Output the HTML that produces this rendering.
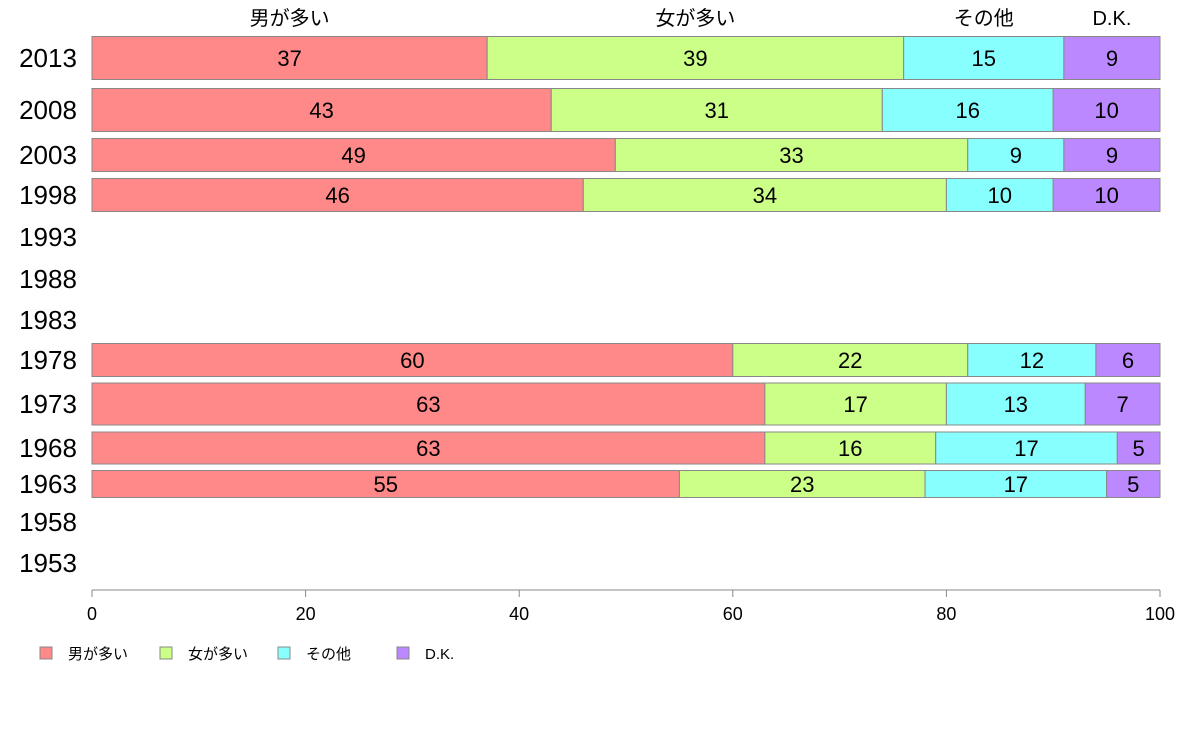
<!DOCTYPE html>
<html><head><meta charset="utf-8">
<style>
body{margin:0;background:#fff;}
svg{display:block;font-family:"Liberation Sans","Noto Sans CJK JP",sans-serif;}
</style></head>
<body>
<svg id="chart" width="1188" height="736" viewBox="0 0 1188 736" xmlns="http://www.w3.org/2000/svg">
<g id="bars"></g>
<g id="axis"></g>
<g id="ylabels"></g>
<g id="heads"></g>
<g id="legend"></g>
</svg>
<script>
const years = ["2013","2008","2003","1998","1993","1988","1983","1978","1973","1968","1963","1958","1953"];
const seriesNames = ["男が多い","女が多い","その他","D.K."];
const male   = [37,43,49,46,null,null,null,60,63,63,55,null,null];
const female = [39,31,33,34,null,null,null,22,17,16,23,null,null];
const other  = [15,16,9,10,null,null,null,12,13,17,17,null,null];
const dk     = [9,10,9,10,null,null,null,6,7,5,5,null,null];
const xTicks = [0,20,40,60,80,100];
// layout (not data): row centers and heights
const rowCenter = [58,110,155,195,237,279,320,360,404,448,484,522,563];
const rowHeight = [43,43,33,33,33,33,33,33,42,32,27,33,33];
const colors = ["#ff8888","#ccff88","#88ffff","#bb88ff"];
const X0=92, X1=1160;
const x = v => X0 + (X1-X0)*v/100;
const NS="http://www.w3.org/2000/svg";
function mk(tag, attrs, parent){const e=document.createElementNS(NS,tag);for(const k in attrs)e.setAttribute(k,attrs[k]);parent.appendChild(e);return e;}
const series=[male,female,other,dk];
const gb=document.getElementById('bars');
years.forEach((yr,i)=>{
  if(male[i]===null) return;
  let cum=0;
  series.forEach((s,j)=>{
    const v=s[i];
    const a=Math.min(cum,100), b=Math.min(cum+v,100);
    const r=mk('rect',{x:x(a),y:rowCenter[i]-rowHeight[i]/2,width:x(b)-x(a),height:rowHeight[i],fill:colors[j],stroke:'#888','stroke-width':1},gb);
    
    
    const t=mk('text',{x:(x(a)+x(b))/2,y:rowCenter[i]+8,'text-anchor':'middle','font-size':22,fill:'#000'},gb);
    t.textContent=v;
    
    
    cum+=v;
  });
});
const gy=document.getElementById('ylabels');
years.forEach((yr,i)=>{
  const t=mk('text',{x:48,y:rowCenter[i]+9,'text-anchor':'middle','font-size':26},gy);
  t.textContent=yr;
  
  
});
const ga=document.getElementById('axis');
const al=mk('line',{x1:X0,x2:X1,y1:590,y2:590,stroke:'#888','stroke-width':1},ga);


xTicks.forEach(v=>{
  const l=mk('line',{x1:x(v),x2:x(v),y1:590,y2:597,stroke:'#888'},ga);
  
  
  const t=mk('text',{x:x(v),y:620,'text-anchor':'middle','font-size':18},ga);
  t.textContent=v;
  
  
});
const gh=document.getElementById('heads');
let cum=0;
series.forEach((s,j)=>{
  const v=s[0];
  const t=mk('text',{x:(x(cum)+x(Math.min(cum+v,100)))/2,y:25,'text-anchor':'middle','font-size':20},gh);
  t.textContent=seriesNames[j];
  
  
  cum+=v;
});
const gl=document.getElementById('legend');
const lx=[40,160,278,397];
seriesNames.forEach((n,j)=>{
  const r=mk('rect',{x:lx[j],y:647,width:12,height:12,fill:colors[j],stroke:'#888'},gl);
  
  
  const t=mk('text',{x:lx[j]+28,y:659,'font-size':15},gl);
  t.textContent=n;
  
  
});
</script>
</body></html>
